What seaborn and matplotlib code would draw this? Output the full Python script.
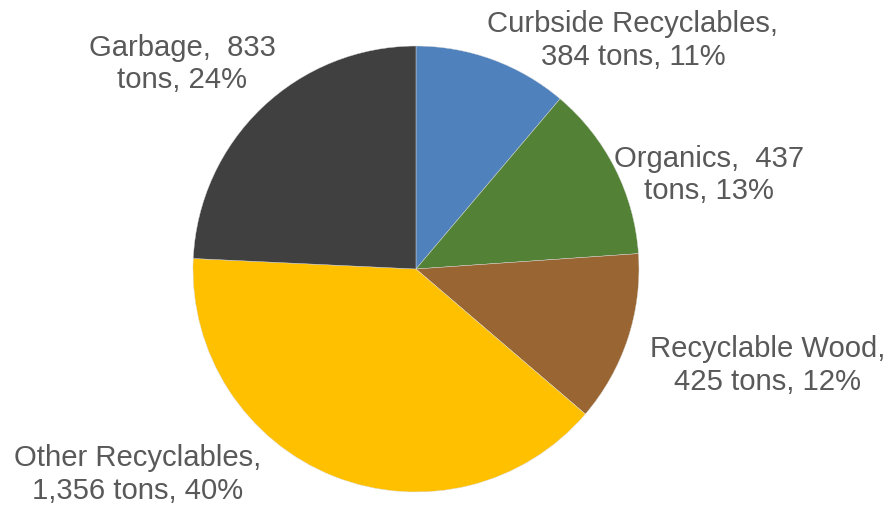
import matplotlib
matplotlib.use("Agg")
import matplotlib.pyplot as plt
import seaborn as sns

sns.set_theme(style="white")
plt.rcParams["font.family"] = ["Liberation Sans", "DejaVu Sans"]

# Waste stream tonnage
categories = ["Curbside Recyclables", "Organics", "Recyclable Wood",
              "Other Recyclables", "Garbage"]
tons = [384, 437, 425, 1356, 833]
label_text = [
    "Curbside Recyclables,\n384 tons, 11%",
    "Organics,  437\ntons, 13%",
    "Recyclable Wood,\n425 tons, 12%",
    "Other Recyclables,\n1,356 tons, 40%",
    "Garbage,  833\ntons, 24%",
]
colors = ["#4F81BD", "#538135", "#996633", "#FFC000", "#404040"]
# label anchor points, in units of pie radius
label_pos = [(0.973, 1.031), (1.314, 0.426), (1.578, -0.430),
             (-1.247, -0.918), (-1.049, 0.924)]

fig = plt.figure(figsize=(8.88, 5.06), dpi=100)
ax = fig.add_axes([0.2173, 0.0257, 0.5023, 0.8814])

ax.pie(tons, colors=colors, startangle=90, counterclock=False,
       wedgeprops=dict(linewidth=0.3, edgecolor="#d9d9d9"))
ax.set_xlim(-1, 1)
ax.set_ylim(-1, 1)
ax.set_aspect("equal")
ax.axis("off")

for txt, (x, y) in zip(label_text, label_pos):
    ax.text(x, y, txt, ha="center", va="center", fontsize=21.1,
            color="#595959", linespacing=1.22, clip_on=False)

fig.savefig("out.png", dpi=100)
